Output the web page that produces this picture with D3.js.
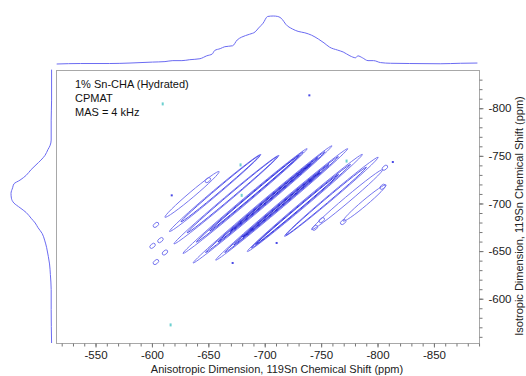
<!DOCTYPE html>
<html>
<head>
<meta charset="utf-8">
<script src="https://cdn.jsdelivr.net/npm/d3@7/dist/d3.min.js"></script>
<style>
  body { margin: 0; background: #fff; }
  svg { display: block; font-family: "Liberation Sans", Arial, sans-serif; }
</style>
</head>
<body>
<div id="chart"></div>
<script>
/* CONSTANTS AND GLOBALS */
const width = 526;
const height = 376;
const plot = { left: 56, right: 479, top: 70, bottom: 343 };

/* DATA */
// top projection: anisotropic dimension (ppm) and relative intensity
const topPpm = [-516, -537, -563, -581, -601, -612, -619, -627, -634, -643, -649, -654, -656, -661, -665, -672,
  -676, -680, -687, -692, -695, -699, -703, -708, -712, -716, -719, -725, -730, -736, -742, -748, -753, -758,
  -765, -770, -776, -781, -783, -787, -792, -797, -803, -812, -829, -856, -874, -889];
const topInt = [0.0, 0.01, 0.01, 0.02, 0.04, 0.05, 0.07, 0.07, 0.09, 0.11, 0.17, 0.21, 0.28, 0.32, 0.36, 0.38,
  0.5, 0.56, 0.62, 0.67, 0.75, 0.85, 0.99, 1.0, 0.99, 0.93, 0.83, 0.73, 0.68, 0.65, 0.6, 0.52, 0.44, 0.35,
  0.29, 0.25, 0.17, 0.13, 0.17, 0.13, 0.07, 0.07, 0.03, 0.015, 0.01, 0.005, 0.015, 0.02];

// left projection: isotropic dimension (ppm) and relative intensity
const leftPpm = [-840, -808, -787, -766, -760, -756, -750, -745, -740, -735, -729, -724, -720, -716, -710, -705,
  -700, -695, -690, -684, -679, -674, -668, -661, -653, -644, -636, -625, -609, -588, -553];
const leftInt = [0.01, 0.01, 0.02, 0.02, 0.05, 0.1, 0.17, 0.27, 0.39, 0.51, 0.63, 0.78, 0.93, 0.96, 1.0, 0.99,
  0.93, 0.78, 0.63, 0.51, 0.41, 0.34, 0.24, 0.18, 0.13, 0.09, 0.06, 0.04, 0.02, 0.02, 0.01];

// sideband ridges: iso = aniso + offset, running from anisoStart to anisoEnd, with n contour levels
const ridgeOffset = [-73, -54, -37, -19, 0, 17, 36, 53, 70, 89];
const ridgeStart = [-612, -616, -620, -628, -637, -657, -685, -718, -742, -770];
const ridgeEnd = [-660, -697, -713, -738, -760, -774, -787, -801, -805, -808];
const ridgeLevels = [1, 2, 2, 3, 4, 4, 3, 2, 1, 1];

// small isolated contour islands (aniso, iso)
const blobAniso = [-604, -608, -601, -604, -612, -745, -751, -770, -805, -807, -650];
const blobIso = [-677, -661, -655, -638, -648, -674, -682, -680, -717, -737, -724];

// tiny noise peaks
const dotAniso = [-740, -618, -672, -711, -814];
const dotIso = [-813, -708, -637, -658, -743];
const negAniso = [-610, -617, -679, -680, -773];
const negIso = [-804, -572, -740, -708, -744];

const xTicks = [-550, -600, -650, -700, -750, -800, -850];
const yTicks = [-600, -650, -700, -750, -800];
const labels = ["1% Sn-CHA (Hydrated)", "CPMAT", "MAS = 4 kHz"];

/* SCALES */
const x = d3.scaleLinear().domain([-515.4, -890.4]).range([plot.left, plot.right]);
const y = d3.scaleLinear().domain([-553, -839.6]).range([plot.bottom, plot.top]);
const topY = d3.scaleLinear().domain([0, 1]).range([64, 16]);
const leftX = d3.scaleLinear().domain([0, 1]).range([52, 11]);

/* SVG */
const svg = d3.select("#chart")
  .append("svg")
  .attr("width", width)
  .attr("height", height);

// frame
svg.append("rect")
  .attr("x", plot.left + 0.5)
  .attr("y", plot.top + 0.5)
  .attr("width", plot.right - plot.left)
  .attr("height", plot.bottom - plot.top)
  .attr("fill", "none")
  .attr("stroke", "#a8a8a8");

// axes
const minorX = d3.range(-520, -891, -10);
const minorY = d3.range(-560, -840, -10);
const plainNum = d => String(d);

const bottomMinor = svg.append("g")
  .attr("transform", `translate(0.5,${plot.bottom + 0.5})`)
  .call(d3.axisBottom(x).tickValues(minorX).tickSize(3).tickFormat(""));
const bottomMajor = svg.append("g")
  .attr("transform", `translate(0.5,${plot.bottom + 0.5})`)
  .call(d3.axisBottom(x).tickValues(xTicks).tickSize(4).tickPadding(3).tickFormat(plainNum));
const rightMinor = svg.append("g")
  .attr("transform", `translate(${plot.right + 0.5},0.5)`)
  .call(d3.axisRight(y).tickValues(minorY).tickSize(3).tickFormat(""));
const rightMajor = svg.append("g")
  .attr("transform", `translate(${plot.right + 0.5},0.5)`)
  .call(d3.axisRight(y).tickValues(yTicks).tickSize(4).tickPadding(5).tickFormat(plainNum));

[bottomMinor, bottomMajor, rightMinor, rightMajor].forEach(g => {
  g.select(".domain").remove();
  g.selectAll(".tick line").attr("stroke", "#777");
  g.selectAll(".tick text").attr("fill", "#222").style("font-size", "11.5px")
    .style("font-family", '"Liberation Sans", Arial, sans-serif');
});

svg.append("text")
  .attr("x", 277)
  .attr("y", 373)
  .attr("text-anchor", "middle")
  .attr("fill", "#222")
  .style("font-size", "11px")
  .text("Anisotropic Dimension, 119Sn Chemical Shift (ppm)");

svg.append("text")
  .attr("transform", "translate(523,216) rotate(-90)")
  .attr("text-anchor", "middle")
  .attr("fill", "#222")
  .style("font-size", "11px")
  .text("Isotropic Dimension, 119Sn Chemical Shift (ppm)");

svg.selectAll(".label")
  .data(labels)
  .join("text")
  .attr("class", "label")
  .attr("x", 75)
  .attr("y", (d, i) => 88 + i * 14)
  .attr("fill", "#111")
  .style("font-size", "11px")
  .text(d => d);

// projections
const topData = topPpm.map((p, i) => [p, topInt[i]]);
svg.append("path")
  .datum(topData)
  .attr("fill", "none")
  .attr("stroke", "#6b6bf2")
  .attr("stroke-width", 1)
  .attr("d", d3.line().x(d => x(d[0])).y(d => topY(d[1])).curve(d3.curveMonotoneX));

const leftData = leftPpm.map((p, i) => [p, leftInt[i]]);
svg.append("path")
  .datum(leftData)
  .attr("fill", "none")
  .attr("stroke", "#6b6bf2")
  .attr("stroke-width", 1)
  .attr("d", d3.line().x(d => leftX(d[1])).y(d => y(d[0])).curve(d3.curveMonotoneY));

// contour ridges
const levelColors = ["#7474ee", "#5050e6", "#3333dc", "#1d1dcc"];
const levelHalfWidth = [2.8, 2.0, 1.3, 0.6];
const ridges = ridgeOffset.map((c, i) => ({
  c, a1: ridgeStart[i], a2: ridgeEnd[i], n: ridgeLevels[i]
}));

const ridgeG = svg.append("g").attr("class", "ridges");
ridges.forEach(r => {
  const x1 = x(r.a1), y1 = y(r.a1 + r.c);
  const x2 = x(r.a2), y2 = y(r.a2 + r.c);
  const len = Math.hypot(x2 - x1, y2 - y1);
  const ang = Math.atan2(y2 - y1, x2 - x1) * 180 / Math.PI;
  // inner levels drift toward the centre of the pattern
  const focus = -706.5 - r.c / 2;
  const mid = (r.a1 + r.a2) / 2;
  const pxPerPpm = len / Math.abs(r.a2 - r.a1);
  const levels = d3.range(r.n).map(k => {
    const half = len / 2 * (1 - 0.14 * k);
    const maxShift = len / 2 * 0.14 * k * 0.8;
    let shiftPx = -(focus - mid) * 0.3 * k * pxPerPpm;
    shiftPx = Math.max(-maxShift, Math.min(maxShift, shiftPx));
    return { k, half, shiftPx };
  });
  ridgeG.selectAll(null)
    .data(levels)
    .join("ellipse")
    .attr("transform", `translate(${(x1 + x2) / 2},${(y1 + y2) / 2}) rotate(${ang})`)
    .attr("cx", d => d.shiftPx)
    .attr("cy", 0)
    .attr("rx", d => d.half)
    .attr("ry", d => levelHalfWidth[d.k])
    .attr("fill", "none")
    .attr("stroke", d => levelColors[d.k])
    .attr("stroke-width", 0.9);
});

// islands
const ridgeAngle = Math.atan2(y(-700) - y(-650), x(-700) - x(-650)) * 180 / Math.PI;
svg.selectAll(".blob")
  .data(blobAniso.map((a, i) => [a, blobIso[i]]))
  .join("ellipse")
  .attr("class", "blob")
  .attr("transform", d => `translate(${x(d[0])},${y(d[1])}) rotate(${ridgeAngle})`)
  .attr("rx", 3.2)
  .attr("ry", 1.9)
  .attr("fill", "none")
  .attr("stroke", "#7474ee")
  .attr("stroke-width", 0.9);

svg.selectAll(".dot")
  .data(dotAniso.map((a, i) => [a, dotIso[i]]))
  .join("rect")
  .attr("class", "dot")
  .attr("x", d => x(d[0]) - 1)
  .attr("y", d => y(d[1]) - 1)
  .attr("width", 2)
  .attr("height", 2)
  .attr("fill", "#4a4ae6");

svg.selectAll(".neg")
  .data(negAniso.map((a, i) => [a, negIso[i]]))
  .join("rect")
  .attr("class", "neg")
  .attr("x", d => x(d[0]) - 1)
  .attr("y", d => y(d[1]) - 1.5)
  .attr("width", 2)
  .attr("height", 3)
  .attr("fill", "#6cd0d0");
</script>
</body>
</html>
